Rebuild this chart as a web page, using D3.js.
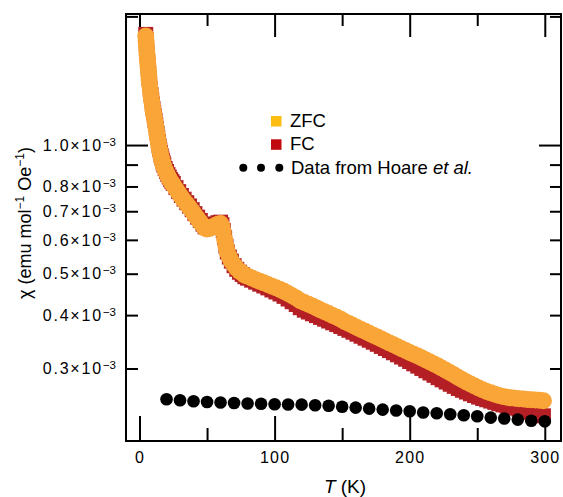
<!DOCTYPE html>
<html>
<head>
<meta charset="utf-8">
<script src="https://d3js.org/d3.v7.min.js"></script>
<style>
  body { margin: 0; background: #fff; }
  text { font-family: "Liberation Sans", Arial, Helvetica, sans-serif; fill: #000; }
</style>
</head>
<body>
<svg id="chart" width="563" height="497"></svg>

<script>
// temperatures (K) shared by the ZFC and FC sweeps
const temps = [4.6,4.85,5.1,5.35,5.6,5.85,6.1,6.35,6.6,6.85,
  7.1,7.5,8,8.5,9,9.5,10,10.5,11,11.5,
  12,12.5,13,13.5,14,14.5,15,15.5,16,16.5,
  17,17.5,18,19,20,21,22,23,24,25,
  27,29,31,33,35,37,39,41,43,45,
  47,48.5,50,52,54,56,58,60,61,62,
  63,64,65,66.5,68,70,72,74,76,78,
  80,83,86,89,92,95,98,101,104,107,
  110,113,116,119,122,125,128,131,134,137,
  140,143,146,149,152,155,158,161,164,167,
  170,173,176,179,182,185,188,191,194,197,
  200,203,206,209,212,215,218,221,224,227,
  230,233,236,239,242,245,248,251,254,257,
  260,263,266,269,272,275,278,281,284,287,
  290,293,296,299];

// chi in units of 1e-3 emu mol^-1 Oe^-1
const chiZFC = [1.800,1.752,1.706,1.665,1.625,1.590,1.556,1.523,1.490,1.459,
  1.420,1.382,1.342,1.302,1.268,1.237,1.208,1.182,1.160,1.134,
  1.108,1.083,1.058,1.035,1.011,0.988,0.968,0.953,0.937,0.925,
  0.912,0.901,0.891,0.874,0.860,0.846,0.835,0.824,0.815,0.806,
  0.789,0.772,0.756,0.741,0.728,0.714,0.701,0.686,0.673,0.660,
  0.648,0.639,0.636,0.638,0.643,0.648,0.653,0.655,0.646,0.626,
  0.602,0.580,0.562,0.547,0.535,0.524,0.514,0.507,0.502,0.496,
  0.4929,0.4886,0.4842,0.4800,0.4759,0.4718,0.4675,0.4635,0.4595,0.4546,
  0.4495,0.4442,0.4387,0.4323,0.4282,0.4240,0.4199,0.4159,0.4114,0.4072,
  0.4033,0.3994,0.3955,0.3911,0.3861,0.3821,0.3782,0.3742,0.3703,0.3666,
  0.3628,0.3589,0.3553,0.3516,0.3479,0.3444,0.3408,0.3372,0.3337,0.3305,
  0.3271,0.3240,0.3208,0.3176,0.3142,0.3108,0.3075,0.3040,0.3004,0.2969,
  0.2932,0.2896,0.2859,0.2824,0.2790,0.2759,0.2729,0.2701,0.2675,0.2651,
  0.2631,0.2613,0.2594,0.2579,0.2569,0.2563,0.2556,0.2550,0.2544,0.2539,
  0.2535,0.2531,0.2528,0.2523];

const chiFC = [1.815,1.766,1.719,1.678,1.638,1.603,1.569,1.535,1.502,1.470,
  1.431,1.393,1.352,1.313,1.278,1.247,1.217,1.192,1.169,1.143,
  1.117,1.092,1.067,1.043,1.019,0.996,0.976,0.960,0.945,0.932,
  0.920,0.909,0.898,0.881,0.867,0.853,0.842,0.830,0.821,0.813,
  0.795,0.778,0.762,0.747,0.733,0.720,0.706,0.691,0.678,0.666,
  0.653,0.644,0.641,0.643,0.648,0.653,0.658,0.660,0.651,0.631,
  0.607,0.580,0.562,0.547,0.535,0.522,0.512,0.504,0.498,0.492,
  0.4881,0.4829,0.4777,0.4726,0.4680,0.4632,0.4580,0.4531,0.4482,0.4425,
  0.4363,0.4300,0.4236,0.4163,0.4108,0.4068,0.4029,0.3990,0.3951,0.3913,
  0.3875,0.3838,0.3801,0.3762,0.3724,0.3686,0.3648,0.3609,0.3570,0.3532,
  0.3494,0.3457,0.3418,0.3379,0.3341,0.3304,0.3266,0.3230,0.3191,0.3154,
  0.3115,0.3077,0.3039,0.3001,0.2964,0.2928,0.2892,0.2856,0.2822,0.2789,
  0.2756,0.2725,0.2694,0.2668,0.2643,0.2618,0.2594,0.2572,0.2553,0.2535,
  0.2517,0.2500,0.2482,0.2466,0.2452,0.2437,0.2423,0.2408,0.2396,0.2382,
  0.2370,0.2357,0.2344,0.2325];

// literature data (Hoare et al.)
const hoareT = [20,30,40,50,60,70,80,90,100,110,120,130,140,150,160,170,180,190,200,
  210,220,230,240,250,260,270,280,290,300];
const hoareChi = [0.2542,0.2528,0.2515,0.2505,0.2497,0.2492,0.2484,0.2481,0.2474,0.2472,
  0.2469,0.2461,0.2454,0.2441,0.2430,0.2417,0.2404,0.2393,0.2382,0.2367,
  0.2357,0.2344,0.2332,0.2319,0.2303,0.2291,0.2278,0.2264,0.2257];

// ticks
const xMajor = [0, 100, 200, 300];
const xMinor = [50, 150, 250];
const yLabelled = [0.3, 0.4, 0.5, 0.6, 0.7, 0.8, 1.0];
const yMinor = [0.3, 0.4, 0.5, 0.6, 0.7, 0.8, 0.9, 2.0];

const legendItems = ["ZFC", "FC"];

const svg = d3.select("#chart");
const pLeft = 126, pRight = 561, pTop = 14, pBottom = 441;

const x = d3.scaleLinear().domain([-10, 312]).range([pLeft, pRight]);
const y = d3.scaleLog().domain([0.203, 2.026]).range([pBottom, pTop]);

const orange = "#f9a537", red = "#b31f24";

// axes (inward ticks), drawn below the data
function styleAxis(g) {
  g.select(".domain").remove();
  g.selectAll(".tick line").attr("stroke", "#000").attr("stroke-width", 2);
}

svg.append("g").attr("transform", `translate(0,${pBottom})`)
  .call(d3.axisBottom(x).tickValues(xMajor).tickSizeInner(-25).tickSizeOuter(0).tickPadding(11))
  .call(styleAxis)
  .call(g => g.selectAll(".tick text")
      .attr("font-size", 16).attr("letter-spacing", 1.2)
      .attr("font-family", "Liberation Sans, Arial, sans-serif"));
svg.append("g").attr("transform", `translate(0,${pBottom})`)
  .call(d3.axisBottom(x).tickValues(xMinor).tickSizeInner(-13).tickSizeOuter(0).tickFormat(""))
  .call(styleAxis);
svg.append("g").attr("transform", `translate(0,${pTop})`)
  .call(d3.axisTop(x).tickValues(xMajor).tickSizeInner(-23).tickSizeOuter(0).tickFormat(""))
  .call(styleAxis);
svg.append("g").attr("transform", `translate(0,${pTop})`)
  .call(d3.axisTop(x).tickValues(xMinor).tickSizeInner(-12).tickSizeOuter(0).tickFormat(""))
  .call(styleAxis);

svg.append("g").attr("transform", `translate(${pLeft},0)`)
  .call(d3.axisLeft(y).tickValues([1.0]).tickSizeInner(-22).tickSizeOuter(0).tickFormat(""))
  .call(styleAxis);
svg.append("g").attr("transform", `translate(${pLeft},0)`)
  .call(d3.axisLeft(y).tickValues(yMinor).tickSizeInner(-12).tickSizeOuter(0).tickFormat(""))
  .call(styleAxis);
svg.append("g").attr("transform", `translate(${pRight},0)`)
  .call(d3.axisRight(y).tickValues([1.0]).tickSizeInner(-22).tickSizeOuter(0).tickFormat(""))
  .call(styleAxis);
svg.append("g").attr("transform", `translate(${pRight},0)`)
  .call(d3.axisRight(y).tickValues(yMinor).tickSizeInner(-11).tickSizeOuter(0).tickFormat(""))
  .call(styleAxis);

// y tick labels like 0.3x10^-3
const yLab = svg.append("g").selectAll("text").data(yLabelled).join("text")
  .attr("x", 116).attr("y", d => y(d) + 5.7)
  .attr("text-anchor", "end").attr("font-size", 16);
yLab.append("tspan").attr("letter-spacing", 1.8).text(d => d.toFixed(1) + "\u00d710");
yLab.append("tspan").attr("font-size", 11.5).attr("dy", -5).text("\u22123");

// frame
svg.append("rect")
  .attr("x", pLeft).attr("y", pTop)
  .attr("width", pRight - pLeft).attr("height", pBottom - pTop)
  .attr("fill", "none").attr("stroke", "#000").attr("stroke-width", 2);

// FC squares, then ZFC circles on top
svg.append("g").selectAll("rect").data(temps).join("rect")
  .attr("x", d => x(d) - 7.5)
  .attr("y", (d, i) => y(chiFC[i]) - 7.5)
  .attr("width", 15).attr("height", 15)
  .attr("fill", red);

svg.append("g").selectAll("circle").data(temps).join("circle")
  .attr("cx", d => x(d))
  .attr("cy", (d, i) => y(chiZFC[i]))
  .attr("r", 8.5)
  .attr("fill", orange);

svg.append("g").selectAll("circle").data(hoareT).join("circle")
  .attr("cx", d => x(d))
  .attr("cy", (d, i) => y(hoareChi[i]))
  .attr("r", 6.3)
  .attr("fill", "#000");

// legend
const legend = svg.append("g");
const legendColors = ["#fcbd12", "#c10a0f"];
legend.selectAll("rect").data(legendItems).join("rect")
  .attr("x", 271).attr("y", (d, i) => 116 + i * 23.3)
  .attr("width", 10.5).attr("height", 10.5)
  .attr("fill", (d, i) => legendColors[i]);
legend.selectAll("text.lab").data(legendItems).join("text")
  .attr("class", "lab")
  .attr("x", 290).attr("y", (d, i) => 126.5 + i * 23.3)
  .attr("font-size", 18.5)
  .text(d => d);
legend.selectAll("circle").data([243.3, 261, 279.3]).join("circle")
  .attr("cx", d => d).attr("cy", 167.7).attr("r", 4).attr("fill", "#000");
const hoareLab = legend.append("text").attr("x", 291).attr("y", 173.5).attr("font-size", 18.5);
hoareLab.append("tspan").text("Data from Hoare ");
hoareLab.append("tspan").attr("font-style", "italic").text("et al.");

// axis titles
const xt = svg.append("text").attr("x", 345).attr("y", 493).attr("text-anchor", "middle").attr("font-size", 19);
xt.append("tspan").attr("font-style", "italic").text("T");
xt.append("tspan").text(" (K)");

const yt = svg.append("text")
  .attr("transform", "translate(31,223) rotate(-90)")
  .attr("text-anchor", "middle").attr("font-size", 18);
yt.append("tspan").text("\u03c7 (emu mol");
yt.append("tspan").attr("font-size", 12).attr("dy", -7).text("\u22121");
yt.append("tspan").attr("dy", 7).text(" Oe");
yt.append("tspan").attr("font-size", 12).attr("dy", -7).text("\u22121");
yt.append("tspan").attr("dy", 7).text(")");
</script>
</body>
</html>
